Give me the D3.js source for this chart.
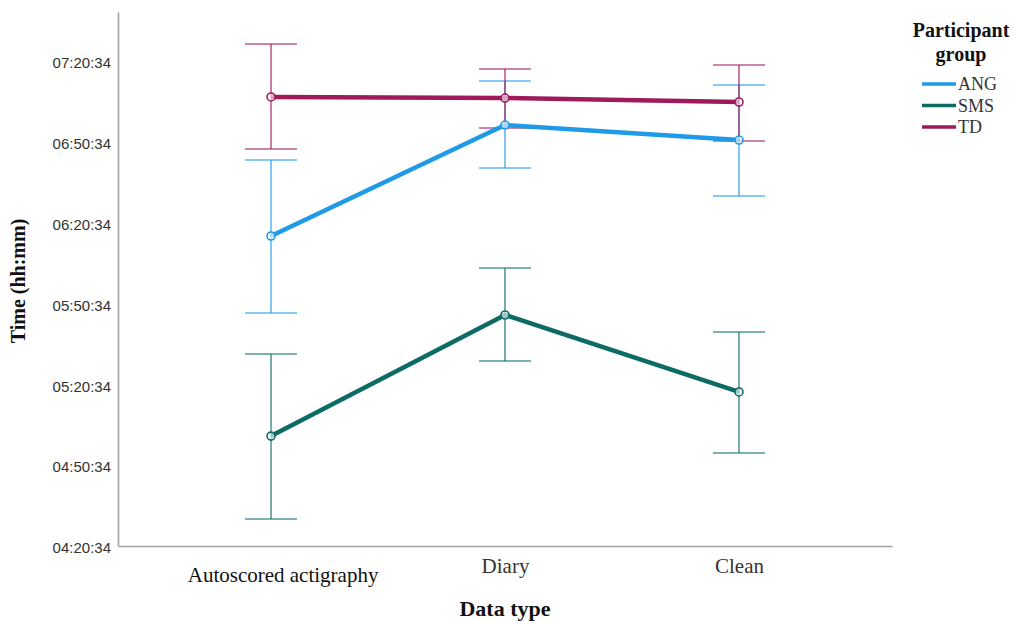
<!DOCTYPE html>
<html>
<head>
<meta charset="utf-8">
<script src="https://cdn.jsdelivr.net/npm/d3@7/dist/d3.min.js"></script>
<style>
  body { margin: 0; background: #fff; }
  svg { display: block; }
</style>
</head>
<body>
<svg id="chart" width="1014" height="621"></svg>
<script>
// Mean sleep-time estimates (hh:mm:ss) with error-bar limits, per participant group
const categories = ["Autoscored actigraphy", "Diary", "Clean"];
const groups = ["ANG", "SMS", "TD"];
const colors = ["#1f9ae6", "#0d6b66", "#9e1a5b"];

const angMean  = ["06:15:40", "06:56:52", "06:51:18"];
const angUpper = ["06:43:52", "07:13:13", "07:11:45"];
const angLower = ["05:47:04", "06:40:55", "06:30:32"];

const smsMean  = ["05:01:22", "05:46:20", "05:17:46"];
const smsUpper = ["05:31:52", "06:03:46", "05:40:02"];
const smsLower = ["04:30:35", "05:29:16", "04:55:06"];

const tdMean  = ["07:07:17", "07:06:53", "07:05:25"];
const tdUpper = ["07:26:58", "07:17:40", "07:19:10"];
const tdLower = ["06:47:58", "06:55:46", "06:50:56"];

const tickLabels = ["04:20:34", "04:50:34", "05:20:34", "05:50:34", "06:20:34", "06:50:34", "07:20:34"];

// hh:mm:ss -> minutes after midnight
const toMin = s => { const [h, m, sec] = s.split(":").map(Number); return h * 60 + m + sec / 60; };

const series = [
  { name: "ANG", mean: angMean, upper: angUpper, lower: angLower },
  { name: "SMS", mean: smsMean, upper: smsUpper, lower: smsLower },
  { name: "TD",  mean: tdMean,  upper: tdUpper,  lower: tdLower }
].map((s, i) => ({
  name: s.name,
  color: colors[i],
  points: categories.map((c, j) => ({
    cat: c, mean: toMin(s.mean[j]), upper: toMin(s.upper[j]), lower: toMin(s.lower[j])
  }))
}));

const svg = d3.select("#chart");
const plotLeft = 118, plotRight = 892, plotTop = 12, plotBottom = 546;

const yMin = toMin(tickLabels[0]);
const yMax = yMin + 30 * (plotBottom - plotTop) / 80.8;
const y = d3.scaleLinear().domain([yMin, yMax]).range([plotBottom, plotTop]);
const x = d3.scalePoint().domain(categories).range([plotLeft, plotRight]).padding(0.654);

const serif = "'Liberation Serif', 'Times New Roman', serif";
const sans = "'Liberation Sans', Arial, sans-serif";

// Y axis (labels only, no tick marks)
const yAxis = d3.axisLeft(y)
  .tickValues(tickLabels.map(toMin))
  .tickFormat((d, i) => tickLabels[i])
  .tickSize(0)
  .tickPadding(7);
const gy = svg.append("g").attr("transform", `translate(${plotLeft},0)`).call(yAxis);
gy.select(".domain").attr("stroke", "#a3a3a3").attr("stroke-width", 1.6);
gy.selectAll("text")
  .attr("font-family", sans).attr("font-size", 15).attr("fill", "#333")
  .attr("dy", "0.45em");

// X axis
const xAxis = d3.axisBottom(x).tickSize(0).tickPadding(12);
const gx = svg.append("g").attr("transform", `translate(0,${plotBottom})`).call(xAxis);
gx.select(".domain").attr("stroke", "#a3a3a3").attr("stroke-width", 1.6);
gx.selectAll("text")
  .attr("font-family", serif).attr("font-size", 21)
  .attr("fill", (d, i) => i === 0 ? "#111" : "#333")
  .attr("dx", (d, i) => i === 0 ? "0.55em" : 0)
  .attr("dy", (d, i) => i === 0 ? "1.15em" : "0.72em");

// Axis titles
svg.append("text")
  .attr("transform", `translate(25,${(plotTop + plotBottom) / 2 + 2}) rotate(-90)`)
  .attr("text-anchor", "middle")
  .attr("font-family", serif).attr("font-weight", "bold").attr("font-size", 20)
  .attr("fill", "#111")
  .text("Time (hh:mm)");
svg.append("text")
  .attr("x", x("Diary")).attr("y", 616)
  .attr("text-anchor", "middle")
  .attr("font-family", serif).attr("font-weight", "bold").attr("font-size", 22)
  .attr("fill", "#111")
  .text("Data type");

// Error bars
const capHalf = 26;
const err = svg.append("g");
series.forEach(s => {
  const g = err.append("g").attr("stroke", s.color).attr("stroke-opacity", 0.7).attr("stroke-width", 1.6);
  s.points.forEach(p => {
    const cx = x(p.cat);
    g.append("line").attr("x1", cx).attr("x2", cx).attr("y1", y(p.upper)).attr("y2", y(p.lower));
    g.append("line").attr("x1", cx - capHalf).attr("x2", cx + capHalf).attr("y1", y(p.upper)).attr("y2", y(p.upper));
    g.append("line").attr("x1", cx - capHalf).attr("x2", cx + capHalf).attr("y1", y(p.lower)).attr("y2", y(p.lower));
  });
});

// Mean lines and markers
const line = d3.line().x(p => x(p.cat)).y(p => y(p.mean));
series.forEach(s => {
  svg.append("path")
    .datum(s.points)
    .attr("d", line)
    .attr("fill", "none")
    .attr("stroke", s.color)
    .attr("stroke-width", 4.5)
    .attr("stroke-linejoin", "round");
  svg.append("g").selectAll("circle").data(s.points).join("circle")
    .attr("cx", p => x(p.cat)).attr("cy", p => y(p.mean)).attr("r", 4)
    .attr("fill", "#fff").attr("fill-opacity", 0.6)
    .attr("stroke", s.color).attr("stroke-width", 1.6);
});

// Legend
const lg = svg.append("g");
lg.append("text").attr("x", 961).attr("y", 37).attr("text-anchor", "middle")
  .attr("font-family", serif).attr("font-weight", "bold").attr("font-size", 20).attr("fill", "#111")
  .text("Participant");
lg.append("text").attr("x", 961).attr("y", 61).attr("text-anchor", "middle")
  .attr("font-family", serif).attr("font-weight", "bold").attr("font-size", 20).attr("fill", "#111")
  .text("group");
groups.forEach((gname, i) => {
  const yy = 84 + i * 21.5;
  lg.append("line").attr("x1", 922).attr("x2", 956).attr("y1", yy).attr("y2", yy)
    .attr("stroke", colors[i]).attr("stroke-width", 3.5);
  lg.append("text").attr("x", 958).attr("y", yy + 6)
    .attr("font-family", serif).attr("font-size", 18).attr("fill", "#333")
    .text(gname);
});
</script>
</body>
</html>
